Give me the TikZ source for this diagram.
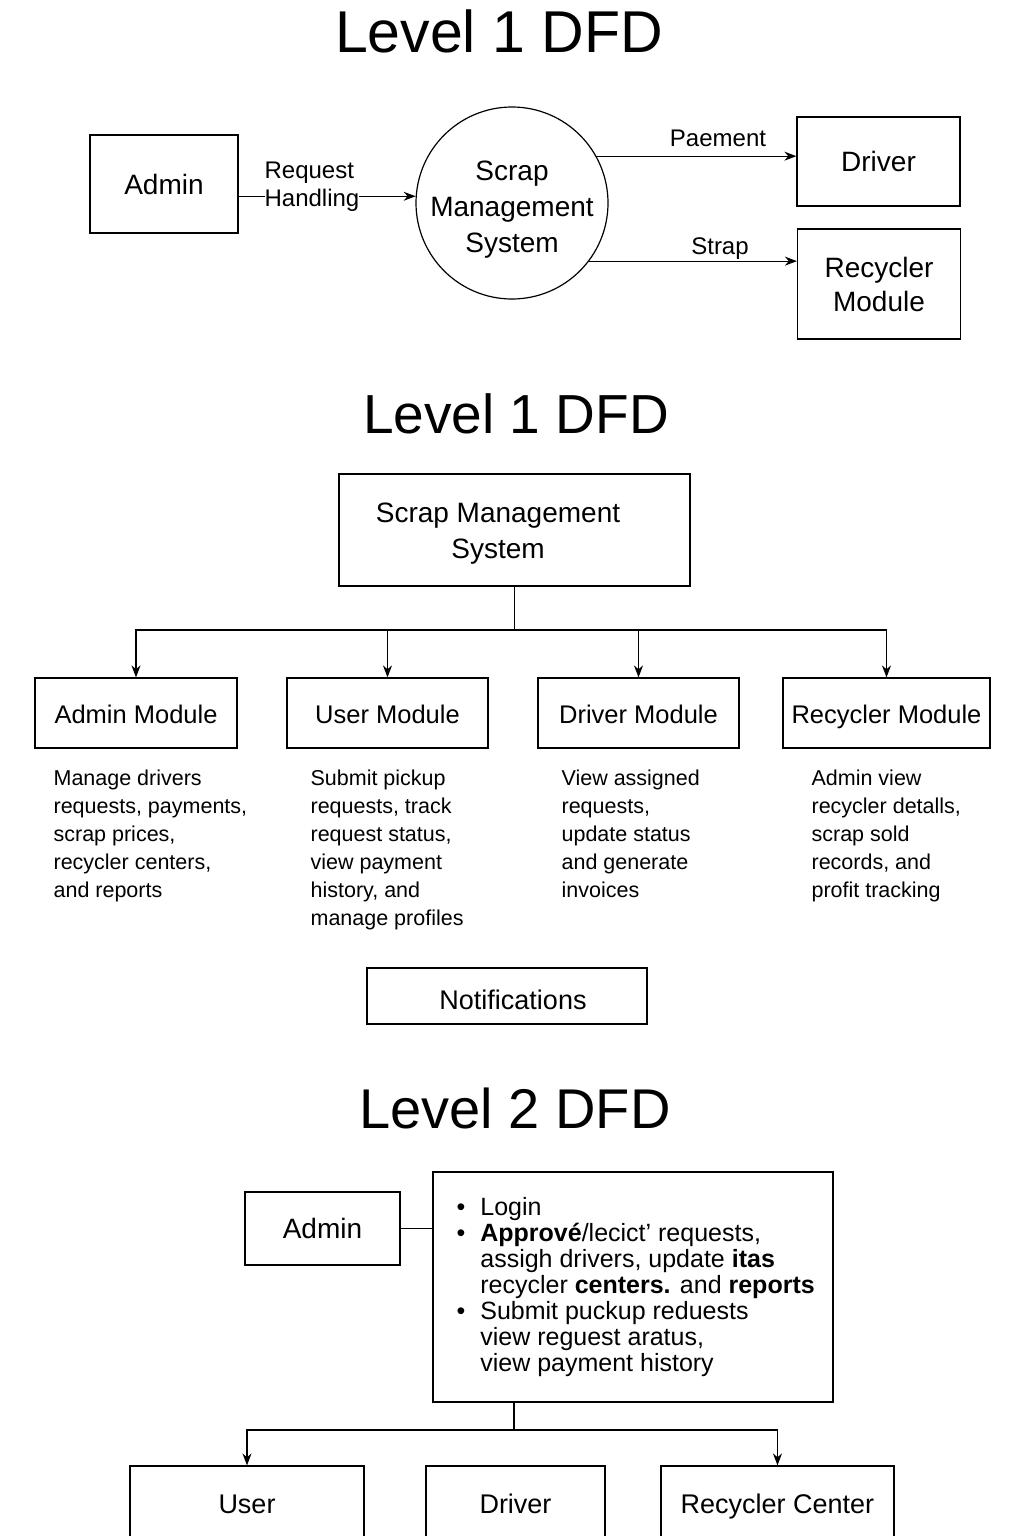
\documentclass[tikz,border=0pt]{standalone}
\usepackage{fontspec}
\setmainfont{Liberation Sans}
\usetikzlibrary{arrows.meta}
\newcommand\myfs[2]{\fontsize{#1}{#2}\selectfont}
\begin{document}
\begin{tikzpicture}[x=1pt,y=-1pt,
  line width=1.2pt,
  box/.style={draw,line width=1.2pt,inner sep=0pt},
  txt/.style={inner sep=0pt},
  arr/.style={-{Stealth[length=12pt,width=9pt]}},
  ttl/.style={inner sep=0pt},
  lbl/.style={inner sep=0pt,font=\myfs{24}{28}},
  mod/.style={box,minimum height=70,font=\myfs{25.5}{30},text height=23pt,text depth=2.6pt},
  desc/.style={inner sep=0pt,anchor=north west,align=left,font=\myfs{21.5}{28}},
  ent/.style={box,font=\myfs{28}{34},align=center},
  bot/.style={box,minimum height=76,font=\myfs{27}{32},text height=22pt,text depth=2.7pt}
]
\clip (0,0) rectangle (1024,1536);
\fill[white] (0,0) rectangle (1024,1536);

% ---------- Top: Level 1 DFD (context) ----------
\node[ttl,font=\myfs{59}{64}] (t1) at (499,31) {Level 1 DFD};
\node[ent,minimum width=148,minimum height=98] (admin) at (164,184) {Admin};
\node[draw,circle,minimum size=192,inner sep=0pt,line width=1.2pt] (circ) at (512,203) {};
\node[txt,align=center,font=\myfs{28}{36}] (circt) at (512,210) {Scrap\\Management\\System};
\node[ent,minimum width=163,minimum height=89] (drv) at (878.5,161.5) {Driver};
\node[ent,minimum width=163,minimum height=110,font=\myfs{28}{34}] (rec) at (879,284) {Recycler\\Module};

\draw[arr] (admin.east |- circ.176.4) -- (circ.176.4);
\node[lbl,anchor=west,align=left,fill=white] (rh) at (264,187) {Request\\Handling};
\draw[arr] (circ.29.3) -- (circ.29.3 -| drv.west);
\node[lbl] (pa) at (718,138) {Paement};
\draw[arr] (circ.-37.9) -- (circ.-37.9 -| rec.west);
\node[lbl] (st) at (720,249) {Strap};

% ---------- Middle: Level 1 DFD (modules) ----------
\node[ttl,font=\myfs{55}{60}] (t2) at (516,414) {Level 1 DFD};
\node[box,minimum width=351,minimum height=112] (sms) at (514.5,530) {};
\node[txt,align=center,font=\myfs{28}{36}] (smst) at (498,534) {Scrap Management\\System};

\node[mod,minimum width=202] (am) at (136,713) {Admin Module};
\node[mod,minimum width=201] (um) at (387.5,713) {User Module};
\node[mod,minimum width=201] (dm) at (638.5,713) {Driver Module};
\node[mod,minimum width=207] (rm) at (886.5,713) {Recycler Module};

\coordinate (j1) at (514.5,630);
\draw (sms.south) -- (j1);
\draw[arr] (j1) -| (am.north);
\draw[arr] (j1) -| (um.north);
\draw[arr] (j1) -| (dm.north);
\draw[arr] (j1) -| (rm.north);

\node[desc] (ad) at (53,769) {Manage drivers\\requests, payments,\\scrap prices,\\recycler centers,\\and reports};
\node[desc] (ud) at (310,769) {Submit pickup\\requests, track\\request status,\\view payment\\history, and\\manage profiles};
\node[desc] (dd) at (561,769) {View assigned\\requests,\\update status\\and generate\\invoices};
\node[desc] (rd) at (811,769) {Admin view\\recycler detalls,\\scrap sold\\records, and\\profit tracking};

\node[box,minimum width=280,minimum height=56] (notif) at (507,996) {};
\node[txt,font=\myfs{27}{32}] (notift) at (513,1000) {Notifications};

% ---------- Bottom: Level 2 DFD ----------
\node[ttl,font=\myfs{56}{60}] (t3) at (515,1108) {Level 2 DFD};
\node[ent,minimum width=155,minimum height=73] (adm2) at (322.5,1228.5) {Admin};
\node[box,minimum width=400,minimum height=230] (big) at (633,1287) {};
\node[txt,anchor=north west,font=\myfs{25}{26}] (bl) at (456,1197) {%
\begin{tabular}{@{}l@{\hspace{15pt}}l@{}}
• & Login\\
• & \textbf{Apprové}/lecict’ requests,\\
  & assigh drivers, update \textbf{itas}\\
  & recycler \textbf{centers.} and \textbf{reports}\\
• & Submit puckup reduests\\
  & view reguest aratus,\\
  & view payment history
\end{tabular}};
\draw (adm2.east) -- (adm2.east -| big.west);

\node[bot,minimum width=234] (usr) at (247,1504) {User};
\node[bot,minimum width=179] (drv2) at (515.5,1504) {Driver};
\node[bot,minimum width=233] (rc) at (777.5,1504) {Recycler Center};

\coordinate (j2) at (514,1430);
\draw (big.south -| j2) -- (j2);
\draw[arr] (j2) -| (usr.north);
\draw[arr] (j2) -| (rc.north);
\end{tikzpicture}
\end{document}
